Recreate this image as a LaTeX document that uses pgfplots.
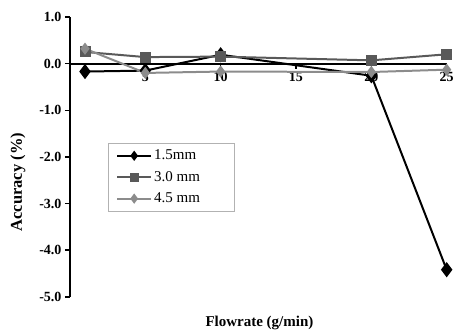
\documentclass[border=0pt]{standalone}
\usepackage{fontspec}
\setmainfont{Liberation Serif}
\usepackage{pgfplots}
\pgfplotsset{compat=1.18}
\definecolor{gA}{HTML}{595959}
\definecolor{gB}{HTML}{8C8C8C}
\begin{document}
\begin{tikzpicture}
\path (-70pt,-39pt) rectangle (387pt,297pt);
\begin{axis}[
  at={(0,0)}, anchor=south west,
  scale only axis, width=377pt, height=280pt,
  xmin=0, xmax=25, ymin=-5, ymax=1,
  axis x line*=middle, axis y line*=left,
  axis line style={line width=2pt, black},
  xtick={0,5,10,15,20,25},
  ytick={-5,-4,-3,-2,-1,0,1},
  /pgf/number format/assume math mode=true,
  yticklabel style={/pgf/number format/fixed, /pgf/number format/fixed zerofill, /pgf/number format/precision=1},
  tick label style={font=\fontsize{14}{16}\selectfont\bfseries},
  tick style={black, line width=1.5pt},
  tick align=outside,
  major tick length=5pt,
  xlabel={Flowrate (g/min)},
  ylabel={Accuracy (\%)},
  xlabel style={at={(rel axis cs:0.503,0)}, anchor=center, yshift=-26pt, font=\fontsize{15}{17}\selectfont\bfseries},
  ylabel style={at={(rel axis cs:-0.138,0.41)}, anchor=center, font=\fontsize{16.5}{18}\selectfont\bfseries},
  legend style={at={(0.101,0.55)}, anchor=north west, draw=black!30, font=\fontsize{15}{17}\selectfont, row sep=6pt, inner xsep=8pt, inner ysep=5pt},
  legend cell align=left,
  legend image code/.code={\draw[mark repeat=2,mark phase=2,#1,mark size=3.5pt] plot coordinates {(0pt,0pt) (17pt,0pt) (34pt,0pt)};},
  clip=false,
]
\addplot[black, line width=2pt, mark=diamond*, mark size=6pt, mark options={solid}] coordinates {
  (1,-0.17) (5,-0.15) (10,0.19) (20,-0.26) (25,-4.42)};
\addlegendentry{\makebox[70pt][l]{1.5mm}}
\addplot[gA, line width=2pt, mark=square*, mark size=4.5pt] coordinates {
  (1,0.25) (5,0.14) (10,0.15) (20,0.07) (25,0.20)};
\addlegendentry{\makebox[70pt][l]{3.0 mm}}
\addplot[gB, line width=2pt, mark=diamond*, mark size=4.5pt] coordinates {
  (1,0.32) (5,-0.20) (10,-0.17) (20,-0.18) (25,-0.13)};
\addlegendentry{\makebox[70pt][l]{4.5 mm}}
\end{axis}
\end{tikzpicture}
\end{document}
